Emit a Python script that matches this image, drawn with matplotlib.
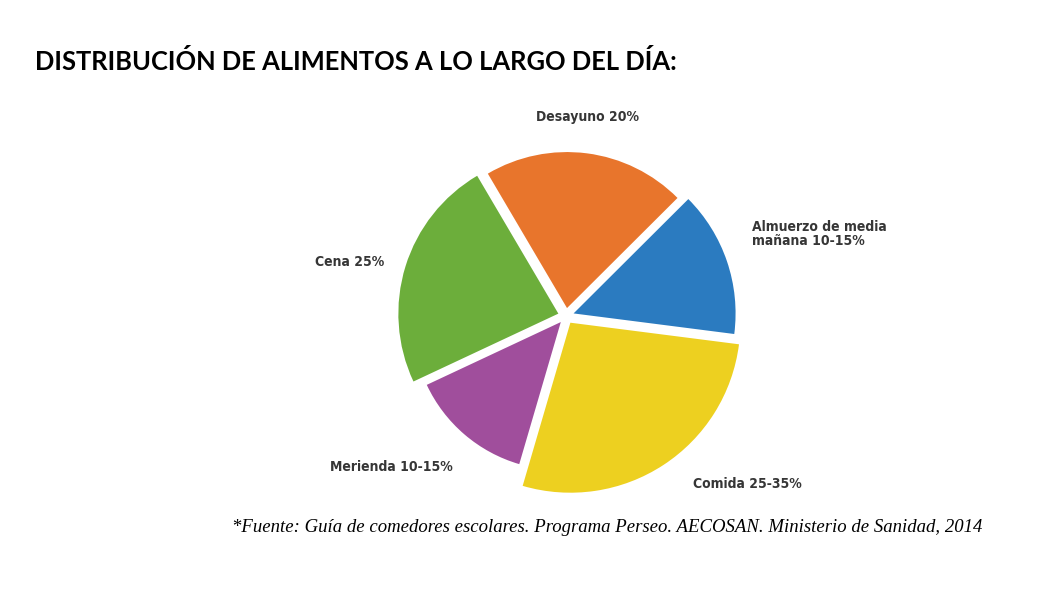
import matplotlib
matplotlib.use('Agg')
import matplotlib.pyplot as plt

# ---- data ----
meals = ["Desayuno", "Almuerzo de media mañana", "Comida", "Merienda", "Cena"]
shares = [21, 14.5, 27.5, 13.5, 23.5]          # share of the circle
labels = ["Desayuno 20%", "Almuerzo de media\nmañana 10-15%", "Comida 25-35%",
          "Merienda 10-15%", "Cena 25%"]
title = "DISTRIBUCIÓN DE ALIMENTOS A LO LARGO DEL DÍA:"
source = "*Fuente: Guía de comedores escolares. Programa Perseo. AECOSAN. Ministerio de Sanidad, 2014"

# ---- style ----
colors = ["#E8752C", "#2B7BC0", "#EDD020", "#A04E9C", "#6CAE3B"]
radii = [156, 162, 170, 148, 160]
W, H = 1060, 604

fig = plt.figure(figsize=(W / 100, H / 100), dpi=100)
ax = fig.add_axes([0, 0, 1, 1])
cx, cy = 566, H - 316
wedges, _ = ax.pie(shares, colors=colors, startangle=120.5, counterclock=False,
                   center=(cx, cy), radius=160, explode=[8] * len(shares),
                   frame=True, wedgeprops=dict(linewidth=0))
for w, r in zip(wedges, radii):
    w.set_radius(r)
ax.set_xlim(0, W)
ax.set_ylim(0, H)
ax.set_aspect('equal')
ax.axis('off')

lab_font = dict(family=['Liberation Sans Narrow', 'DejaVu Sans'], fontweight='bold',
                fontstretch='condensed', fontsize=10, color='#363636')
label_pos = [(587, H - 117, 'center'), (752, H - 234, 'left'), (693, H - 484, 'left'),
             (330, H - 467, 'left'), (315, H - 262, 'left')]
for lab, (x, y, ha) in zip(labels, label_pos):
    ax.text(x, y, lab, ha=ha, va='center', linespacing=1.0, **lab_font)

ax.text(35, H - 62, title, ha='left', va='center', fontsize=18.4, fontweight='bold',
        family=['Lato', 'DejaVu Sans'], color='black')
ax.text(232, H - 527, source, ha='left', va='center', fontsize=13.5, fontstyle='italic',
        family=['Liberation Serif', 'DejaVu Serif'], color='black')

fig.savefig('out.png', dpi=100)
